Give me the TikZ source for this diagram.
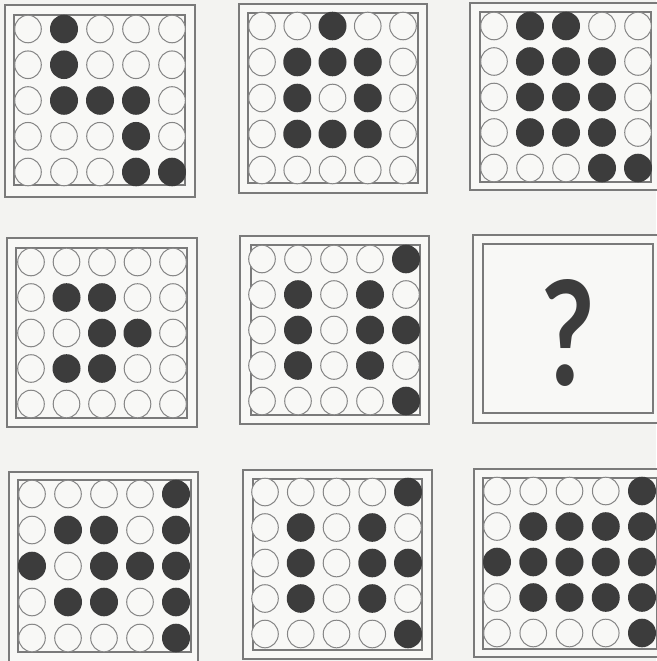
\documentclass[tikz,border=0pt]{standalone}
\usepackage{fontspec}
\setmainfont{Liberation Sans}
\newfontfamily\qfont{Lato}
\definecolor{bgc}{HTML}{F3F3F1}
\definecolor{panelc}{HTML}{F8F8F6}
\definecolor{boxc}{HTML}{7A7A7A}
\definecolor{ringc}{HTML}{858585}
\definecolor{dotc}{HTML}{3C3C3C}
\tikzset{
  boxline/.style={draw=boxc,line width=1.1pt},
  ring/.style={draw=ringc,line width=1pt,fill=panelc},
  dot/.style={fill=dotc,draw=none},
}
% \dotgrid{cx}{cy}{sx}{sy}{rows}
\newcommand\dotgrid[5]{%
  \foreach \rw [count=\ii from 0] in {#5}{%
    \foreach \vv [count=\jj from 0] in \rw{%
      \ifnum\vv=1
        \fill[dot] ({#1+\jj*#3},{#2+\ii*#4}) ellipse [x radius=14,y radius=14.3];
      \else
        \draw[ring] ({#1+\jj*#3},{#2+\ii*#4}) ellipse [x radius=13.3,y radius=13.8];
      \fi
    }%
  }%
}
\newcommand\panelbox[8]{%
  \draw[boxline,fill=panelc] (#1,#2) rectangle (#3,#4);
  \draw[boxline] (#5,#6) rectangle (#7,#8);
}
\begin{document}
\begin{tikzpicture}[x=1pt,y=-1pt]
\useasboundingbox (0,0) rectangle (656,661);
\fill[bgc] (0,0) rectangle (656,661);
% Row 1
\panelbox{5}{5}{195}{197}{14}{15}{185}{185}
\dotgrid{28}{29}{36}{35.75}{{0,1,0,0,0},{0,1,0,0,0},{0,1,1,1,0},{0,0,0,1,0},{0,0,0,1,1}}
\panelbox{239}{4}{427}{193}{248}{13}{418}{183}
\dotgrid{262}{26}{35.25}{36}{{0,0,1,0,0},{0,1,1,1,0},{0,1,0,1,0},{0,1,1,1,0},{0,0,0,0,0}}
\panelbox{470}{3}{660}{190}{480}{12}{651}{182}
\dotgrid{494}{26}{36}{35.5}{{0,1,1,0,0},{0,1,1,1,0},{0,1,1,1,0},{0,1,1,1,0},{0,0,0,1,1}}
% Row 2
\panelbox{7}{238}{197}{427}{16}{248}{187}{418}
\dotgrid{31}{262}{35.5}{35.5}{{0,0,0,0,0},{0,1,1,0,0},{0,0,1,1,0},{0,1,1,0,0},{0,0,0,0,0}}
\panelbox{240}{236}{429}{424}{251}{245}{420}{415}
\dotgrid{262}{259}{36}{35.5}{{0,0,0,0,1},{0,1,0,1,0},{0,1,0,1,1},{0,1,0,1,0},{0,0,0,0,1}}
\panelbox{473}{235}{660}{423}{483}{244}{653}{413}
\node[anchor=base,inner sep=0pt,text=dotc,xscale=0.8,font=\qfont\bfseries\fontsize{145}{145}\selectfont] (q) at (568,385) {?};
% Row 3
\panelbox{9}{472}{198}{664}{18}{480}{191}{652}
\dotgrid{32}{494}{36}{36}{{0,0,0,0,1},{0,1,1,0,1},{1,0,1,1,1},{0,1,1,0,1},{0,0,0,0,1}}
\panelbox{243}{470}{432}{659}{253}{479}{422}{650}
\dotgrid{265}{492}{35.75}{35.5}{{0,0,0,0,1},{0,1,0,1,0},{0,1,0,1,1},{0,1,0,1,0},{0,0,0,0,1}}
\panelbox{474}{469}{662}{657}{483}{478}{657}{649}
\dotgrid{497}{491}{36.25}{35.5}{{0,0,0,0,1},{0,1,1,1,1},{1,1,1,1,1},{0,1,1,1,1},{0,0,0,0,1}}
\end{tikzpicture}
\end{document}
